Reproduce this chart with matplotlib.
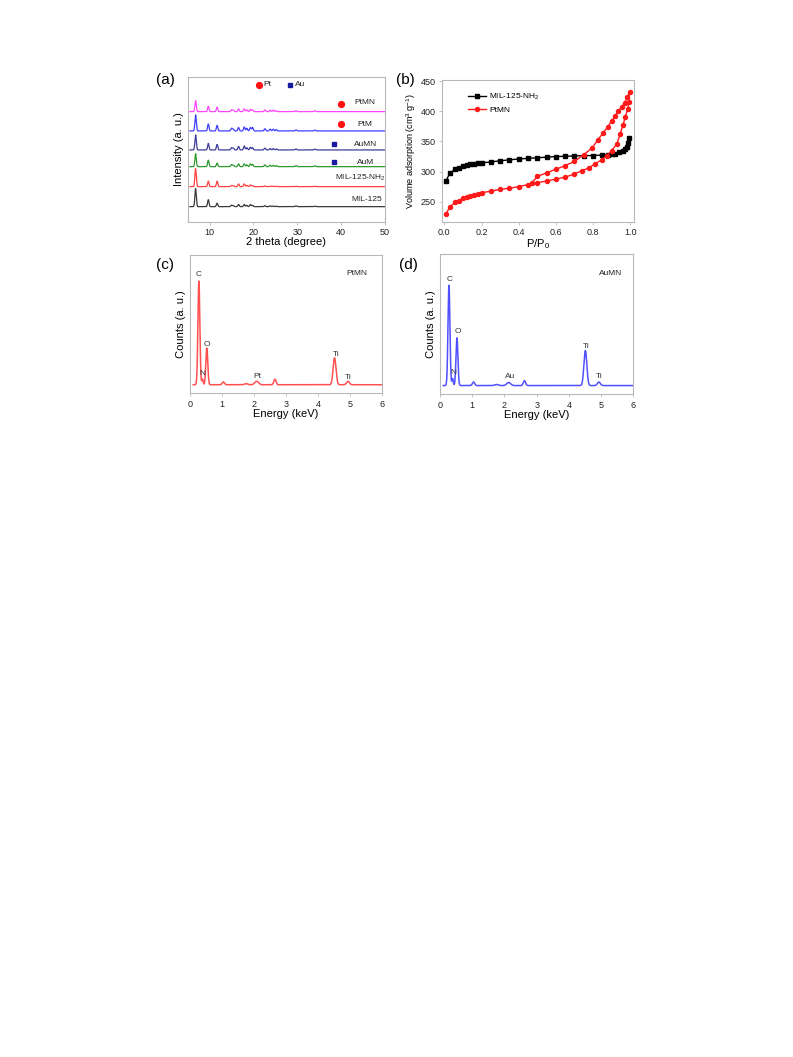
import numpy as np
import matplotlib.pyplot as plt

plt.rcParams['font.family'] = ['Liberation Sans', 'DejaVu Sans']
plt.rcParams['mathtext.fontset'] = 'custom'
plt.rcParams['mathtext.rm'] = 'Liberation Sans'
plt.rcParams['mathtext.it'] = 'Liberation Sans:italic'
plt.rcParams['mathtext.default'] = 'regular'

# ---- (a) XRD: peak positions (2 theta) and heights for each sample ----
xrd_names = ['MIL-125', 'MIL-125-NH$_2$', 'AuM', 'AuMN', 'PtM', 'PtMN']
xrd_colors = ['#3a3a3a', '#ff4040', '#2e9a2e', '#3c3c9c', '#3f3fff', '#ff44ff']
xrd_offsets = [15, 35, 55, 71.7, 90.7, 110]
xrd_peaks = [6.8, 9.7, 11.7, 15.0, 15.4, 16.6, 17.9, 18.5, 19.3, 19.8,
             22.6, 23.8, 24.5, 25.2, 29.7, 34.0]
xrd_heights = [
    [18, 7, 3.5, 1.5, 1, 2.2, 2.2, 1.3, 2.2, 1.3, 1, 0.8, 0.6, 0.5, 0.8, 0.5],
    [18, 5.5, 5.5, 1.2, 1, 2.7, 2.7, 1.3, 1.8, 1, 0.8, 0.6, 0.5, 0.4, 0.5, 0.4],
    [13, 6.5, 3.5, 2, 1.5, 2.7, 2.7, 1.8, 2.7, 2.2, 1.8, 1.4, 1.4, 1.1, 1, 0.8],
    [15, 6.5, 5.5, 2.2, 1.8, 3.5, 4, 2.2, 2.7, 2.2, 1.8, 1.4, 1.4, 1, 1, 0.8],
    [16, 7, 5.5, 2.7, 1.8, 3.5, 4, 2.7, 3.5, 3.5, 2.2, 1.8, 1.8, 1.4, 1, 0.8],
    [11, 5.5, 4.5, 1.8, 1.4, 2.7, 2.7, 1.8, 2.2, 1.8, 1.8, 1.4, 1.4, 1, 1, 0.8],
]

# ---- (b) N2 isotherms ----
p_mil = [0.01, 0.03, 0.06, 0.08, 0.1, 0.12, 0.14, 0.16, 0.18, 0.2, 0.25, 0.3,
         0.35, 0.4, 0.45, 0.5, 0.55, 0.6, 0.65, 0.7, 0.75, 0.8, 0.85, 0.88,
         0.9, 0.92, 0.94, 0.96, 0.97, 0.98, 0.99, 0.995]
v_mil = [285, 298, 304, 306, 309, 310.5, 312, 313, 314, 314.5, 316, 318,
         319.5, 321, 322, 323, 324, 325, 325.5, 326, 326.5, 326.7, 327.5, 328,
         329, 330, 332, 334, 337, 341, 347, 355]
p_pt = [0.01, 0.03, 0.06, 0.08, 0.1, 0.12, 0.14, 0.16, 0.18, 0.2, 0.25, 0.3,
        0.35, 0.4, 0.45, 0.5, 0.55, 0.6, 0.65, 0.7, 0.74, 0.776, 0.81, 0.848,
        0.875, 0.9, 0.928, 0.946, 0.96, 0.973, 0.986, 0.993, 0.996,
        0.985, 0.969, 0.955, 0.934, 0.919, 0.9, 0.878, 0.853, 0.824, 0.794,
        0.749, 0.7, 0.65, 0.6, 0.55, 0.5, 0.47]
v_pt = [230, 242, 249, 252, 255.5, 258, 260, 262, 263.5, 265, 267.5, 270.5,
        272.5, 275, 278.5, 281.5, 284.5, 287.5, 291, 296, 301.7, 306, 312.8, 320,
        326.7, 335, 346, 362.8, 376.7, 390.5, 404, 415.5, 432,
        424, 414, 408, 400, 392, 384, 374, 364, 352, 339,
        328, 317, 310, 304, 298, 292, 281]

# ---- (c), (d) EDS peaks ----
eds_pos_pt = [0.277, 0.39, 0.525, 1.04, 1.75, 2.08, 2.65, 4.51, 4.93]
eds_h_pt = [0.75, 0.04, 0.265, 0.02, 0.008, 0.025, 0.04, 0.195, 0.025]
eds_pos_au = [0.277, 0.39, 0.525, 1.04, 1.75, 2.13, 2.62, 4.51, 4.93]
eds_h_au = [0.715, 0.05, 0.34, 0.025, 0.008, 0.022, 0.035, 0.25, 0.025]
eds_sig = [0.03, 0.02, 0.03, 0.035, 0.05, 0.06, 0.035, 0.045, 0.045]
eds_base = 0.062

fig = plt.figure(figsize=(7.93, 10.57), dpi=100)
spine_c = '#b8b8b8'
tick_fs = 6.5
lab_fs = 8


def style(ax):
    for s in ax.spines.values():
        s.set_color(spine_c)
        s.set_linewidth(0.8)
    ax.tick_params(colors=spine_c, labelcolor='#222222', labelsize=tick_fs,
                   length=2.5, width=0.6, direction='out', pad=2)


# (a)
ax = fig.add_axes([0.2367, 0.7903, 0.2488, 0.1372])
tt = np.linspace(5.5, 50, 3000)
for name, c, off, hs in zip(xrd_names, xrd_colors, xrd_offsets, xrd_heights):
    y = np.full_like(tt, off)
    for p, h in zip(xrd_peaks, hs):
        y += h * np.exp(-0.5 * ((tt - p) / 0.16) ** 2)
    ax.plot(tt, y, color=c, lw=0.9)
ax.set_xlim(5, 50)
ax.set_ylim(0, 145)
ax.set_yticks([])
ax.set_xticks([10, 20, 30, 40, 50])
style(ax)
ax.set_xlabel('2 theta (degree)', fontsize=lab_fs, labelpad=0)
ax.set_ylabel('Intensity (a. u.)', fontsize=lab_fs, labelpad=3)
ax.text(45.5, 118.7, 'PtMN', fontsize=6, ha='center', va='center', color='#222222')
ax.text(45.5, 96.7, 'PtM', fontsize=6, ha='center', va='center', color='#222222')
ax.text(45.5, 76.7, 'AuMN', fontsize=6, ha='center', va='center', color='#222222')
ax.text(45.5, 58.7, 'AuM', fontsize=6, ha='center', va='center', color='#222222')
ax.text(44.3, 43.7, 'MIL-125-NH$_2$', fontsize=6, ha='center', va='center', color='#222222')
ax.text(45.8, 21.7, 'MIL-125', fontsize=6, ha='center', va='center', color='#222222')
ax.plot([39.9, 39.9], [117.7, 97.7], 'o', color='#ff1010', ms=4.2)
ax.plot([38.4, 38.4], [77.7, 59.7], 's', color='#1a1aa0', ms=3.3)
ax.plot([21.3], [136.7], 'o', color='#ff1010', ms=4.2)
ax.text(22.3, 136.7, 'Pt', fontsize=6, va='center', color='#222222')
ax.plot([28.4], [136.7], 's', color='#1a1aa0', ms=3.3)
ax.text(29.4, 136.7, 'Au', fontsize=6, va='center', color='#222222')
fig.text(0.2081, 0.9243, '(a)', fontsize=11, ha='center', va='center')

# (b)
ax = fig.add_axes([0.557, 0.7903, 0.2425, 0.134])
ax.plot(p_mil, v_mil, '-s', color='black', ms=2.6, lw=1, label='MIL-125-NH$_2$')
ax.plot(p_pt, v_pt, '-o', color='#ff1a1a', ms=2.9, lw=1, label='PtMN')
ax.set_xlim(-0.014, 1.02)
ax.set_ylim(217, 452)
ax.set_xticks([0.0, 0.2, 0.4, 0.6, 0.8, 1.0])
ax.set_xticklabels(['0.0', '0.2', '0.4', '0.6', '0.8', '1.0'])
ax.set_yticks([250, 300, 350, 400, 450])
style(ax)
ax.set_xlabel('P/P$_0$', fontsize=lab_fs, labelpad=0)
ax.set_ylabel('Volume adsorption (cm$^3$ g$^{-1}$)', fontsize=6.5, labelpad=2)
leg = ax.legend(loc='upper left', bbox_to_anchor=(0.12, 0.94), fontsize=6,
                frameon=False, handlelength=2.2, handletextpad=0.3,
                labelspacing=0.5, borderaxespad=0)
fig.text(0.5107, 0.9243, '(b)', fontsize=11, ha='center', va='center')

# (c), (d)
ee = np.linspace(0.1, 6, 3000)
panels = [
    ([0.2396, 0.6279, 0.2425, 0.1308], eds_pos_pt, eds_h_pt, '#ff5050', 'PtMN',
     [('C', 0.28, 0.856), ('N', 0.38, 0.14), ('O', 0.52, 0.354), ('Pt', 2.1, 0.12),
      ('Ti', 4.55, 0.284), ('Ti', 4.94, 0.113)], (5.2, 0.866), '(c)', 0.2081),
    ([0.5549, 0.6270, 0.2438, 0.1327], eds_pos_au, eds_h_au, '#5050ff', 'AuMN',
     [('C', 0.31, 0.815), ('N', 0.42, 0.154), ('O', 0.55, 0.444), ('Au', 2.17, 0.125),
      ('Ti', 4.53, 0.34), ('Ti', 4.94, 0.13)], (5.28, 0.862), '(d)', 0.5145),
]
for rect, pos, hs, c, tag, labs, tagxy, plab, px in panels:
    ax = fig.add_axes(rect)
    y = np.full_like(ee, eds_base)
    for p, h, s in zip(pos, hs, eds_sig):
        y += h * np.exp(-0.5 * ((ee - p) / s) ** 2)
    ax.plot(ee, y, color=c, lw=1.1)
    ax.set_xlim(0, 6)
    ax.set_ylim(0, 1)
    ax.set_yticks([])
    ax.set_xticks(range(7))
    style(ax)
    ax.set_xlabel('Energy (keV)', fontsize=lab_fs, labelpad=0)
    ax.set_ylabel('Counts (a. u.)', fontsize=lab_fs, labelpad=3)
    for t, xx, yy in labs:
        ax.text(xx, yy, t, fontsize=6, ha='center', va='center', color='#333333')
    ax.text(tagxy[0], tagxy[1], tag, fontsize=6, ha='center', va='center', color='#222222')
    fig.text(px, 0.7493, plab, fontsize=11, ha='center', va='center')

fig.savefig('out.png', dpi=100)
